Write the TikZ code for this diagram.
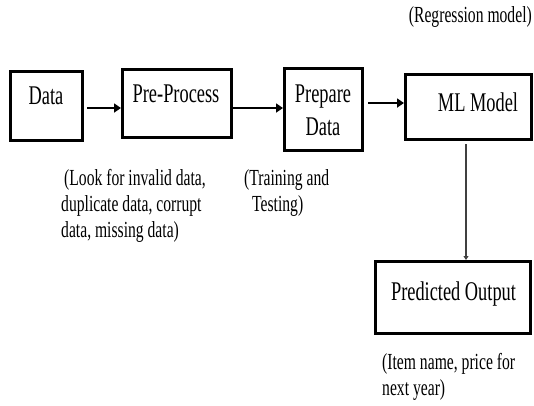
\documentclass[tikz,border=0pt]{standalone}
\usepackage{fontspec}
\setmainfont{Liberation Serif}[FakeStretch=0.68]
\usetikzlibrary{arrows.meta}
\begin{document}
\begin{tikzpicture}[x=1pt,y=-1pt,
  box/.style={draw,line width=3pt,inner sep=0pt,rectangle},
  lbl/.style={font=\fontsize{27}{33}\selectfont,inner sep=0pt,align=center},
  note/.style={font=\fontsize{23}{26}\selectfont,inner sep=0pt,align=left,anchor=north west},
  flow/.style={line width=1.8pt,-{Triangle[length=7pt,width=9pt]}},
  down/.style={line width=1.3pt,draw=black!75,-{Triangle[length=4pt,width=5pt]}}]
\useasboundingbox (0,0) rectangle (534,405);
% boxes
\node[box,minimum width=72pt,minimum height=69pt] (d) at (46.5,106) {};
\node[box,minimum width=109pt,minimum height=68pt] (p) at (177,103.5) {};
\node[box,minimum width=78pt,minimum height=82pt] (q) at (323.5,109.5) {};
\node[box,minimum width=126pt,minimum height=65pt] (m) at (468.5,107) {};
\node[box,minimum width=155pt,minimum height=72pt] (o) at (453,297.5) {};
% labels
\node[lbl] (dl) at (46,95.5) {Data};
\node[lbl] (pl) at (176,94) {Pre-Process};
\node[lbl] (ql) at (323,110.5) {Prepare\\Data};
\node[lbl] (ml) at (478,102.5) {ML Model};
\node[lbl,anchor=base] (ol) at (453.5,300) {Predicted Output};
% notes
\node[note,anchor=base east] (rm) at (532,22) {(Regression model)};
\node[note] (n1) at (61,169.5) {\hspace{3pt}(Look for invalid data,\\duplicate data, corrupt\\data, missing data)};
\node[note] (n2) at (244,169.5) {(Training and\\\hspace{8pt}Testing)};
\node[note] (n3) at (382,353) {(Item name, price for\\next year)};
% connectors
\draw[flow,shorten <=3pt] ([yshift=-2pt]d.east) -- ([yshift=-2pt]d.east -| p.west);
\draw[flow] ([yshift=-4.5pt]p.east) -- ([yshift=-4.5pt]p.east -| q.west);
\draw[flow,shorten <=4pt] ([yshift=6.5pt]q.east) -- ([yshift=6.5pt]q.east -| m.west);
\draw[down,shorten <=3pt] ([xshift=-2.5pt]m.south) -- ([xshift=-2.5pt]m.south |- o.north);
\end{tikzpicture}
\end{document}
